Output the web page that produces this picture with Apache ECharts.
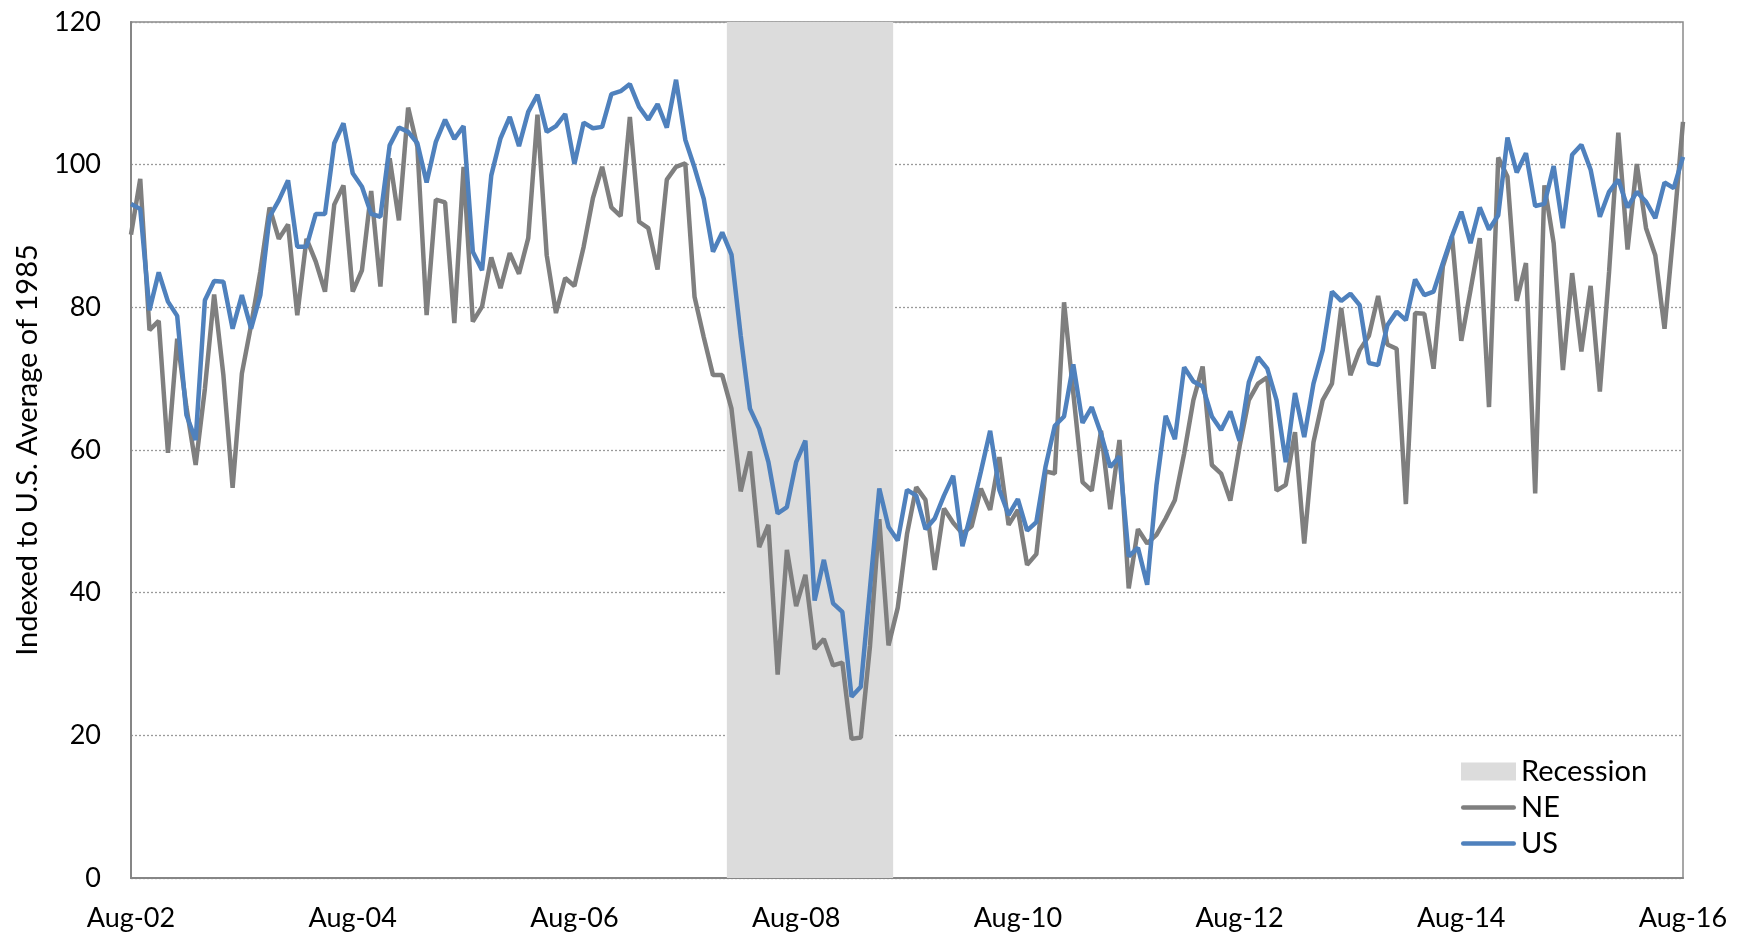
<!DOCTYPE html>
<html>
<head>
<meta charset="utf-8">
<script src="https://cdn.jsdelivr.net/npm/echarts@6/dist/echarts.min.js"></script>
<style>
  html, body { margin: 0; padding: 0; background: #fff; }
  #chart { width: 1748px; height: 934px; }
</style>
</head>
<body>
<div id="chart"></div>
<script>
// monthly, Aug-02 .. Aug-16
const monthNames = ['Jan', 'Feb', 'Mar', 'Apr', 'May', 'Jun', 'Jul', 'Aug', 'Sep', 'Oct', 'Nov', 'Dec'];
const startYear = 2002, startMonth = 7, monthCount = 169;

const recessionStart = 'Jan-08';
const recessionEnd = 'Jun-09';

const ne = [
  90.2, 98.0, 76.8, 78.1, 59.6, 75.6, 66.0, 57.9, 68.6, 81.8, 70.5, 54.7,
  70.7, 77.5, 85.0, 94.0, 89.6, 91.6, 78.9, 89.6, 86.4, 82.2, 94.4, 97.1,
  82.2, 85.2, 96.3, 82.9, 100.9, 92.2, 108.0, 102.5, 78.9, 95.1, 94.7, 77.8,
  99.7, 78.0, 80.1, 87.0, 82.7, 87.6, 84.7, 89.7, 107.0, 87.3, 79.2, 84.1,
  83.0, 88.5, 95.3, 99.7, 94.0, 92.8, 106.7, 92.0, 91.1, 85.3, 97.9, 99.7,
  100.2, 81.5, 75.8, 70.5, 70.5, 65.8, 54.2, 59.8, 46.4, 49.5, 28.5, 46.0,
  38.1, 42.5, 32.1, 33.5, 29.8, 30.2, 19.5, 19.7, 32.6, 50.3, 32.6, 37.9,
  48.2, 54.8, 53.0, 43.2, 51.8, 49.8, 48.3, 49.3, 54.6, 51.6, 59.0, 49.5,
  51.6, 43.9, 45.4, 57.0, 56.7, 80.7, 68.0, 55.5, 54.3, 62.7, 51.7, 61.4,
  40.6, 48.9, 46.9, 48.1, 50.4, 53.0, 59.5, 67.0, 71.7, 57.9, 56.7, 52.9,
  60.5, 67.0, 69.3, 70.2, 54.3, 55.1, 62.5, 46.9, 61.1, 67.0, 69.3, 79.9,
  70.5, 74.0, 76.0, 81.6, 74.8, 74.2, 52.4, 79.2, 79.1, 71.4, 85.7, 89.9,
  75.3, 82.4, 89.7, 66.0, 101.0, 98.3, 80.9, 86.2, 53.9, 97.1, 89.0, 71.2,
  84.8, 73.8, 83.0, 68.2, 85.0, 104.5, 88.1, 100.1, 91.1, 87.3, 77.0, 91.0,
  106.0
];

const us = [
  94.5, 93.8, 79.6, 84.9, 80.8, 78.8, 64.9, 61.4, 81.0, 83.7, 83.6, 77.0,
  81.7, 77.0, 81.7, 92.7, 95.0, 97.8, 88.5, 88.5, 93.1, 93.1, 103.0, 105.8,
  98.8, 96.9, 93.1, 92.7, 102.7, 105.2, 104.6, 103.0, 97.5, 103.2, 106.3, 103.6,
  105.4, 87.8, 85.2, 98.5, 103.7, 106.7, 102.6, 107.4, 109.8, 104.6, 105.4, 107.1,
  100.1, 105.9, 105.1, 105.3, 109.9, 110.3, 111.3, 108.1, 106.3, 108.5, 105.2, 111.9,
  103.5, 99.6, 95.2, 87.8, 90.5, 87.4, 76.0, 65.8, 63.0, 58.3, 51.1, 52.0,
  58.3, 61.3, 38.9, 44.6, 38.5, 37.3, 25.4, 26.8, 40.7, 54.6, 49.2, 47.3,
  54.4, 53.6, 48.9, 50.4, 53.6, 56.4, 46.5, 51.5, 57.0, 62.7, 54.4, 50.9,
  53.1, 48.7, 49.9, 57.7, 63.4, 64.7, 72.0, 63.8, 66.0, 62.3, 57.6, 59.1,
  45.1, 46.3, 41.1, 55.0, 64.8, 61.5, 71.6, 69.6, 68.9, 64.7, 62.8, 65.4,
  61.3, 69.5, 73.0, 71.4, 67.0, 58.3, 68.0, 61.8, 69.3, 74.0, 82.2, 80.9,
  81.9, 80.3, 72.2, 71.9, 77.5, 79.4, 78.2, 83.9, 81.7, 82.2, 86.2, 90.0,
  93.4, 89.0, 94.0, 90.9, 92.9, 103.8, 98.9, 101.6, 94.2, 94.5, 99.8, 91.1,
  101.4, 102.8, 99.3, 92.7, 96.2, 97.9, 94.0, 96.2, 94.8, 92.5, 97.5, 96.7,
  101.1
];

const months = [];
for (let k = 0; k < monthCount; k++) {
  const m = (startMonth + k) % 12;
  const y = startYear + Math.floor((startMonth + k) / 12);
  months.push(monthNames[m] + '-' + String(y % 100).padStart(2, '0'));
}

// shading covers whole month columns, so it runs half a month past each end
const r0 = months.indexOf(recessionStart) - 0.5;
const r1 = months.indexOf(recessionEnd) + 0.5;

const font = 'Lato';
const lineIcon = 'path://M2,0 L53,0 A2.2,2.2 0 0 1 53,4.4 L2,4.4 A2.2,2.2 0 0 1 2,0 Z';
const chart = echarts.init(document.getElementById('chart'));

chart.setOption({
  animation: false,
  textStyle: { fontFamily: font },
  grid: {
    left: 131, right: 65, top: 22, bottom: 56,
    show: true, borderColor: '#8a8a8a', borderWidth: 1.5
  },
  legend: {
    data: [
      { name: 'Recession', icon: 'rect' },
      { name: 'NE', icon: lineIcon },
      { name: 'US', icon: lineIcon }
    ],
    orient: 'vertical',
    left: 1456,
    top: 752,
    itemWidth: 55,
    itemHeight: 18,
    itemGap: 7,
    textStyle: { fontFamily: font, fontSize: 29, color: '#000', lineHeight: 29 }
  },
  xAxis: [
    {
      type: 'category',
      data: months,
      boundaryGap: false,
      axisTick: { show: false },
      axisLine: { lineStyle: { color: '#868686', width: 2 } },
      axisLabel: {
        interval: 23,
        color: '#000',
        fontSize: 27,
        fontFamily: font,
        margin: 27
      },
      splitLine: { show: false }
    },
    {
      // month index axis, only used to place the recession band
      type: 'value',
      min: 0,
      max: monthCount - 1,
      show: false
    }
  ],
  yAxis: {
    type: 'value',
    min: 0,
    max: 120,
    interval: 20,
    name: 'Indexed to U.S. Average of 1985',
    nameLocation: 'middle',
    nameGap: 89,
    nameTextStyle: { fontFamily: font, fontSize: 29, color: '#000' },
    axisLine: { show: true, lineStyle: { color: '#868686', width: 2 } },
    axisTick: { show: false },
    axisLabel: { color: '#000', fontSize: 27, fontFamily: font, margin: 30 },
    splitLine: { lineStyle: { color: '#9a9a9a', type: [2, 2], width: 1.3 } }
  },
  series: [
    {
      name: 'Recession',
      type: 'line',
      xAxisIndex: 1,
      data: [],
      symbol: 'none',
      z: 1,
      itemStyle: { color: '#DCDCDC' },
      lineStyle: { width: 0 },
      markArea: {
        silent: true,
        itemStyle: { color: '#DCDCDC', opacity: 1 },
        data: [[{ xAxis: r0 }, { xAxis: r1 }]]
      }
    },
    {
      name: 'NE',
      type: 'line',
      data: ne,
      symbol: 'none',
      z: 3,
      lineStyle: { color: '#7F7F7F', width: 4.5 },
      itemStyle: { color: '#7F7F7F' }
    },
    {
      name: 'US',
      type: 'line',
      data: us,
      symbol: 'none',
      z: 4,
      lineStyle: { color: '#4F81BD', width: 4.5 },
      itemStyle: { color: '#4F81BD' }
    }
  ]
});
</script>
</body>
</html>
